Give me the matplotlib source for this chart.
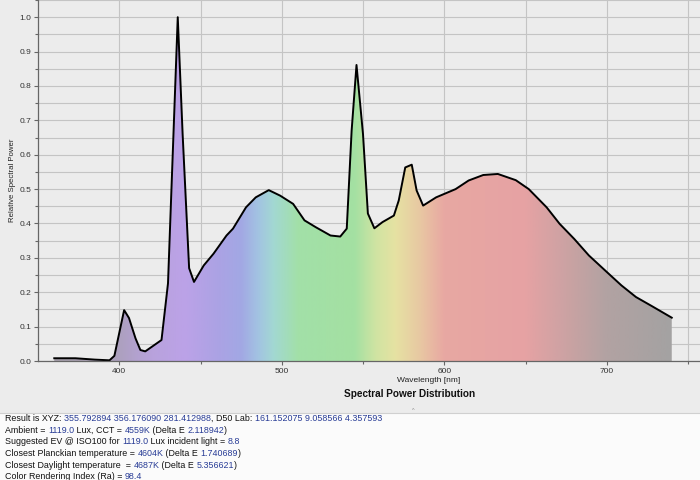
import numpy as np
import matplotlib
matplotlib.use("Agg")
import matplotlib.pyplot as plt
from matplotlib.colors import to_rgb
from matplotlib.patches import Rectangle

plt.rcParams['font.family'] = ['Liberation Sans', 'DejaVu Sans']

# ---- data ----
wavelength = [360, 373, 385, 394, 397, 403, 406, 410, 413, 416, 426, 430, 436, 439, 443,
              446, 452, 458, 466, 470, 478, 484, 492, 499, 507, 514, 521, 530, 536, 540,
              543, 546, 550, 553, 557, 562, 569, 572, 576, 580, 583, 587, 595, 601, 607,
              615, 624, 633, 644, 652, 663, 671, 680, 689, 700, 709, 718, 728, 740]
power = [0.008, 0.008, 0.004, 0.002, 0.015, 0.148, 0.125, 0.066, 0.032, 0.028, 0.061,
         0.226, 1.0, 0.66, 0.27, 0.23, 0.278, 0.312, 0.365, 0.385, 0.447, 0.476, 0.497,
         0.481, 0.457, 0.409, 0.389, 0.365, 0.362, 0.385, 0.67, 0.861, 0.66, 0.429, 0.386,
         0.404, 0.423, 0.467, 0.563, 0.571, 0.496, 0.452, 0.476, 0.488, 0.5, 0.525, 0.541,
         0.544, 0.526, 0.5, 0.447, 0.399, 0.355, 0.307, 0.259, 0.22, 0.186, 0.159, 0.126]

x_ticks = [400, 500, 600, 700]
y_ticks = [0.0, 0.1, 0.2, 0.3, 0.4, 0.5, 0.6, 0.7, 0.8, 0.9, 1.0]

title = "Spectral Power Distribution"
x_label = "Wavelength [nm]"
y_label = "Relative Spectral Power"

info_lines = [
    [("Result is XYZ: ", 0), ("355.792894 356.176090 281.412988", 1), (", D50 Lab: ", 0),
     ("161.152075 9.058566 4.357593", 1)],
    [("Ambient = ", 0), ("1119.0", 1), (" Lux, CCT = ", 0), ("4559K", 1), (" (Delta E ", 0),
     ("2.118942", 1), (")", 0)],
    [("Suggested EV @ ISO100 for ", 0), ("1119.0", 1), (" Lux incident light = ", 0), ("8.8", 1)],
    [("Closest Planckian temperature = ", 0), ("4604K", 1), (" (Delta E ", 0), ("1.740689", 1),
     (")", 0)],
    [("Closest Daylight temperature  = ", 0), ("4687K", 1), (" (Delta E ", 0), ("5.356621", 1),
     (")", 0)],
    [("Color Rendering Index (Ra) = ", 0), ("98.4", 1)],
]

# spectral colour stops for the fill gradient
stop_wl = [350, 395, 420, 440, 460, 475, 485, 495, 510, 545, 558, 570, 585, 600, 650, 700, 745]
stop_col = ['#a8a2aa', '#aaa0b8', '#b8a2dc', '#bca2e8', '#aca2e4', '#a2a8e4', '#a2c2e2',
            '#a2d8d2', '#a2e0a8', '#a4e0a2', '#d0e4a2', '#e6e2a2', '#e8c8a2', '#e8a8a2',
            '#e6a2a4', '#b2a2a2', '#a2a2a2']

# ---- figure ----
W, H = 700, 480
fig = plt.figure(figsize=(7, 4.8), dpi=100)
fig.patch.set_facecolor('#ececec')

# bottom white info panel
fig.patches.append(Rectangle((0, 0), 1, 67 / H, transform=fig.transFigure,
                             facecolor='#fbfbfb', edgecolor='none', zorder=0))
fig.lines.append(plt.Line2D([0, 1], [67.5 / H, 67.5 / H], transform=fig.transFigure,
                            color='#d0d0d0', lw=0.8))

ax_l, ax_r, ax_t, ax_b = 38, 700, 0, 361
ax = fig.add_axes([ax_l / W, 1 - ax_b / H, (ax_r - ax_l) / W, (ax_b - ax_t) / H])
ax.set_facecolor('#ececec')
xmin = 350
xmax = 350 + (ax_r - ax_l) / 1.625
ymax = (ax_b - ax_t) / 345.0
ax.set_xlim(xmin, xmax)
ax.set_ylim(0, ymax)

# grid
ax.set_xticks(np.arange(400, 751, 50), minor=True)
ax.set_xticks(x_ticks)
ax.set_xticklabels([str(v) for v in x_ticks])
ax.set_yticks(np.arange(0, 1.051, 0.05), minor=True)
ax.set_yticks(y_ticks)
ax.set_yticklabels([f"{v:.1f}" for v in y_ticks])
ax.grid(True, which='both', color='#c4c4c4', lw=0.8)
ax.set_axisbelow(True)

# gradient fill clipped to the curve
grad_x = np.linspace(xmin, xmax, 800)
rgb = np.array([to_rgb(c) for c in stop_col])
img = np.stack([np.interp(grad_x, stop_wl, rgb[:, i]) for i in range(3)], axis=-1)[None, :, :]
im = ax.imshow(img, extent=(xmin, xmax, 0, ymax), aspect='auto', origin='lower', zorder=2)
poly = ax.fill_between(wavelength, power, 0, facecolor='none', edgecolor='none', zorder=2)
clip = poly.get_paths()[0]
im.set_clip_path(clip, transform=ax.transData)

ax.plot(wavelength, power, color='black', lw=1.4, zorder=3, solid_joinstyle='round')

for s in ['top', 'right']:
    ax.spines[s].set_visible(False)
for s in ['left', 'bottom']:
    ax.spines[s].set_color('#666666')
    ax.spines[s].set_linewidth(0.9)
    ax.spines[s].set_zorder(4)
ax.tick_params(which='both', direction='out', length=3, width=0.8, color='#666666',
               labelsize=6, labelcolor='#333333', pad=2)
ax.tick_params(which='minor', length=2)

fig.text(13 / W, 1 - 180 / H, y_label, rotation=90, ha='center', va='center',
         fontsize=5.6, color='#222222')
fig.text(429 / W, 1 - 380.5 / H, x_label, ha='center', va='center', fontsize=6,
         color='#222222')
fig.text(410 / W, 1 - 394 / H, title, ha='center', va='center', fontsize=7.2,
         fontweight='bold', color='#111111')
fig.text(413 / W, 1 - 410 / H, "^", ha='center', va='center', fontsize=4, color='#888888')

# info text, mixed colours (baseline aligned)
renderer = fig.canvas.get_renderer()
line_base = [421, 432.7, 444.3, 456, 467.7, 479]
colors = ['#111111', '#283c96']
for yv, pieces in zip(line_base, info_lines):
    xp = 5
    for txt, ci in pieces:
        t = fig.text(xp / W, 1 - yv / H, txt, ha='left', va='baseline', fontsize=6.4,
                     color=colors[ci])
        bb = t.get_window_extent(renderer)
        xp = bb.x1

fig.savefig('out.png', dpi=100, facecolor=fig.get_facecolor())
